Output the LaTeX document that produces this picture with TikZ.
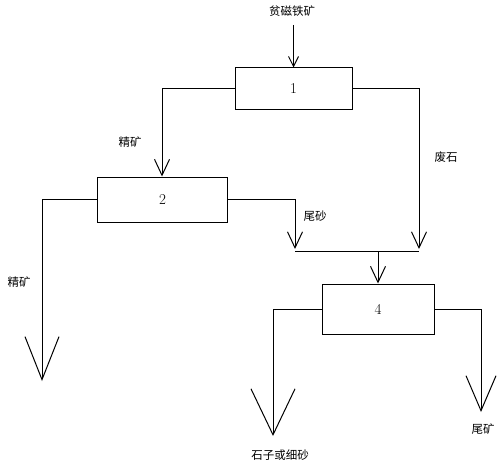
\documentclass[tikz,border=0pt]{standalone}
\usepackage{fontspec}
\newfontfamily\cjk{Noto Sans CJK SC}
\usepackage{tikz}
\usetikzlibrary{arrows,arrows.meta,positioning}

\tikzset{
	box/.style={draw, line width=1pt, inner sep=0pt, font=\fontsize{15}{17}\selectfont},
	lbl/.style={font=\cjk\fontsize{11.5}{13}\selectfont, inner sep=0pt},
	flow/.style={line width=1pt},
	tipS/.style={-{Straight Barb[length=10pt,width=10pt]}},
	tipM/.style={-{Straight Barb[length=16pt,width=15pt]}},
	tipL/.style={-{Straight Barb[length=43pt,width=34pt]}},
	tipXL/.style={-{Straight Barb[length=46pt,width=44pt]}},
	tipR/.style={-{Straight Barb[length=35pt,width=30pt]}}
}

\begin{document}
\begin{tikzpicture}[x=1pt, y=-1pt]
			\useasboundingbox (0, 0) rectangle (500, 468);

			\node[box, minimum width=117pt, minimum height=42pt] (box1) at (293.5, 89) {1};
			\node[box, minimum width=130pt, minimum height=45pt] (box2) at (162.5, 199.5) {2};
			\node[box, minimum width=112pt, minimum height=50pt] (box4) at (378, 309) {4};

			\node[lbl] (feed) at (292, 11) {贫磁铁矿};
			\node[lbl] (conc1) at (130, 142) {精矿};
			\node[lbl] (waste) at (446, 157) {废石};
			\node[lbl] (sand) at (315, 216) {尾砂};
			\node[lbl] (conc2) at (19, 282) {精矿};
			\node[lbl] (fine) at (280, 455) {石子或细砂};
			\node[lbl] (tail) at (483, 429) {尾矿};

			\coordinate (feedtop) at (293.5, 25);
			\coordinate (c1) at (162, 89);
			\coordinate (c2) at (419, 89);
			\coordinate (c2end) at (419, 249);
			\coordinate (c3) at (295, 199.5);
			\coordinate (c3end) at (295, 249);
			\coordinate (joinL) at (295, 251);
			\coordinate (joinR) at (419, 251);
			\coordinate (joinM) at (378, 251);
			\coordinate (c4) at (42, 199.5);
			\coordinate (c4end) at (42, 381);
			\coordinate (c5) at (273, 309);
			\coordinate (c5end) at (273, 436);
			\coordinate (c6) at (481, 309);
			\coordinate (c6end) at (481, 412);

			\draw [flow, tipS] (feedtop) to (box1.north);
			\draw [flow, tipM] (box1.west) -- (c1) -- (c1 |- box2.north);
			\draw [flow, tipM] (box1.east) -- (c2) -- (c2end);
			\draw [flow, tipM] (box2.east) -- (c3) -- (c3end);
			\draw [flow] (joinL) -- (joinR);
			\draw [flow, tipM] (joinM) to (box4.north);
			\draw [flow, tipL] (box2.west) -- (c4) -- (c4end);
			\draw [flow, tipXL] (box4.west) -- (c5) -- (c5end);
			\draw [flow, tipR] (box4.east) -- (c6) -- (c6end);
	\end{tikzpicture}
\end{document}
